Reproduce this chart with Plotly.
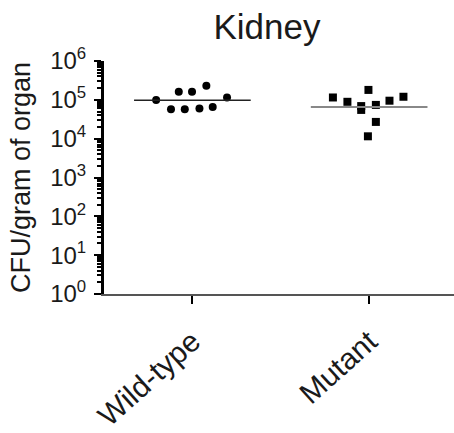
import plotly.graph_objects as go

categories = ["Wild-type", "Mutant"]
cat_pos = [0, 1]

wt_offsets = [-0.205, -0.077, -0.002, 0.079, 0.196, -0.121, -0.043, 0.040, 0.115]
wt_values = [99000, 162000, 162000, 230000, 115000, 57000, 57000, 60000, 65000]
wt_center_line = 98000

mut_offsets = [-0.205, -0.123, -0.045, -0.045, -0.004, 0.038, 0.038, -0.007, 0.115, 0.194]
mut_values = [115000, 89000, 69000, 55000, 180000, 74000, 27000, 11500, 95000, 120000]
mut_center_line = 65000

line_half_width = 0.33

y_exponents = [0, 1, 2, 3, 4, 5, 6]
y_tick_values = [10 ** e for e in y_exponents]
y_tick_labels = ["10<sup>%d</sup>" % e for e in y_exponents]
minor_tick_values = [m * 10 ** e for e in y_exponents[:-1] for m in range(2, 10)]

FONT = "Liberation Sans, Arial, sans-serif"
TXT = "#1a1a1a"

fig = go.Figure()

fig.add_trace(go.Scatter(
    x=[cat_pos[0] + o for o in wt_offsets], y=wt_values, mode="markers",
    marker=dict(symbol="circle", size=8, color="black"), showlegend=False))
fig.add_trace(go.Scatter(
    x=[cat_pos[1] + o for o in mut_offsets], y=mut_values, mode="markers",
    marker=dict(symbol="square", size=8, color="black"), showlegend=False))

fig.add_trace(go.Scatter(
    x=[cat_pos[0] - line_half_width, cat_pos[0] + line_half_width],
    y=[wt_center_line, wt_center_line], mode="lines",
    line=dict(color="#222222", width=1.5), showlegend=False))
fig.add_trace(go.Scatter(
    x=[cat_pos[1] - line_half_width, cat_pos[1] + line_half_width],
    y=[mut_center_line, mut_center_line], mode="lines",
    line=dict(color="#888888", width=2), showlegend=False))

fig.update_layout(
    width=454, height=433,
    margin=dict(l=104, r=0, t=61, b=139),
    paper_bgcolor="white", plot_bgcolor="white",
    font=dict(family=FONT, color=TXT),
    title=dict(text="Kidney", x=(267 - 104) / 350, xref="paper", xanchor="center",
               y=1 - 27 / 433, yref="container", yanchor="middle",
               font=dict(size=35, family=FONT, color=TXT)),
    xaxis=dict(
        range=[-0.5, 1.48], tickvals=cat_pos, ticktext=categories,
        tickangle=-42, tickfont=dict(size=30, family=FONT, color=TXT),
        ticklabelstandoff=8,
        showline=True, linecolor="#555555", linewidth=2,
        ticks="outside", ticklen=8, tickwidth=2, tickcolor="black",
        showgrid=False, zeroline=False),
    yaxis=dict(
        type="log", range=[0, 6], tickvals=y_tick_values, ticktext=y_tick_labels,
        tickfont=dict(size=24, family=FONT, color=TXT),
        ticklabelstandoff=3,
        showline=True, linecolor="black", linewidth=3,
        ticks="outside", ticklen=7, tickwidth=2, tickcolor="black",
        minor=dict(ticks="outside", ticklen=4, tickwidth=1.5, tickcolor="black",
                   tickvals=minor_tick_values, showgrid=False),
        showgrid=False, zeroline=False,
        title=dict(text="CFU/gram of organ", font=dict(size=27, family=FONT, color=TXT), standoff=12)),
)

fig.write_html("out.html")
